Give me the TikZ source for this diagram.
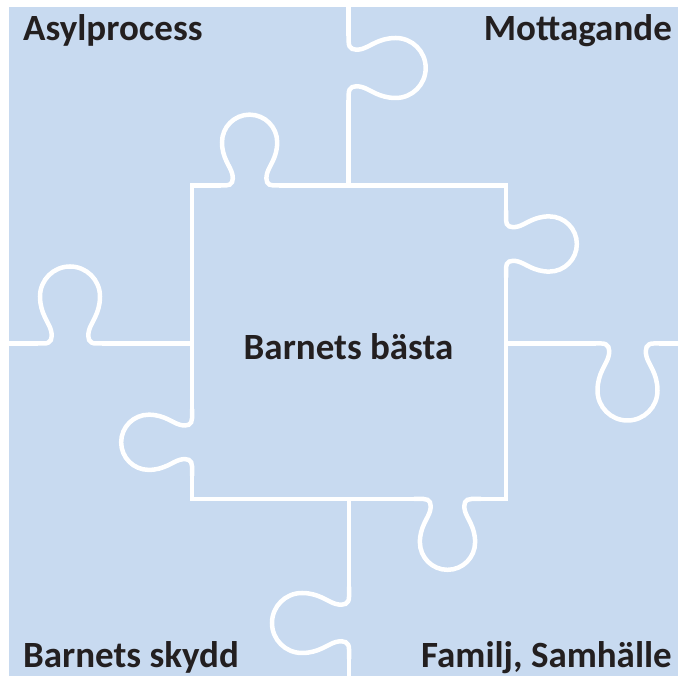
\documentclass[tikz,border=0pt]{standalone}
\usepackage{fontspec}
\setmainfont{Carlito}
\usepackage{tikz}
\usetikzlibrary{positioning}

\definecolor{puzzleblue}{RGB}{200,218,240}
\definecolor{labelgray}{RGB}{35,31,32}

% one knob of a piece, at (x,y), turned by angle, scaled
\newcommand{\knob}[4]{%
\draw[cut,shift={(#1,#2)},rotate=#3,scale=#4] (-34,0) -- (-26,0)
  .. controls (-19,0) and (-17,5) .. (-19,13)
  .. controls (-21,21) and (-30,30) .. (-30,47)
  .. controls (-30,63.57) and (-16.57,77) .. (0,77)
  .. controls (16.57,77) and (30,63.57) .. (30,47)
  .. controls (30,30) and (21,21) .. (19,13)
  .. controls (17,5) and (19,0) .. (26,0) -- (34,0);}

\begin{document}
\begin{tikzpicture}
[x=1pt, y=1pt,
cut/.style={draw=white, line width=4.5pt, line cap=rect, line join=miter},
corner/.style={inner sep=0pt, text=labelgray, font=\fontsize{37}{40}\selectfont\bfseries},
center/.style={inner sep=0pt, text=labelgray, font=\fontsize{37}{40}\selectfont\bfseries}]

\useasboundingbox (0,0) rectangle (678,676);
\fill[puzzleblue] (9,0) rectangle (678,669.3);

% outer cuts
\draw[cut] (348.7,669.3) -- (348.7,642);
\knob{348.7}{608}{-90}{1}
\draw[cut] (348.7,574) -- (348.7,490.5);

\draw[cut] (349,177) -- (349,87);
\knob{349}{53}{90}{1}
\draw[cut] (349,19) -- (349,0);

\draw[cut] (9,332.5) -- (36,332.5);
\knob{70}{332.5}{0}{1}
\draw[cut] (104,332.5) -- (192,332.5);

\draw[cut] (506,332.5) -- (593.5,332.5);
\knob{627.5}{332.5}{180}{1}
\draw[cut] (661.5,332.5) -- (678,332.5);

% middle piece
\draw[cut] (218.3,490.5) -- (192,490.5) -- (192,265);
\knob{192}{233.7}{90}{0.92}
\draw[cut] (192,202.4) -- (192,177) -- (416.2,177);
\knob{447.5}{177}{180}{0.92}
\draw[cut] (478.8,177) -- (506,177) -- (506,400.7);
\knob{506}{432}{-90}{0.92}
\draw[cut] (506,463.3) -- (506,490.5) -- (280.9,490.5);
\knob{249.6}{490.5}{0}{0.92}

% labels
\node[corner,anchor=base west] (asyl) at (23,635) {Asylprocess};
\node[corner,anchor=base east] (mott) at (672,635) {Mottagande};
\node[corner,anchor=base west] (skydd) at (23,8.3) {Barnets skydd};
\node[corner,anchor=base east] (familj) at (672,8.3) {Familj, Samhälle};
\node[center,anchor=base] (basta) at (348.5,316.3) {Barnets bästa};

\end{tikzpicture}
\end{document}
